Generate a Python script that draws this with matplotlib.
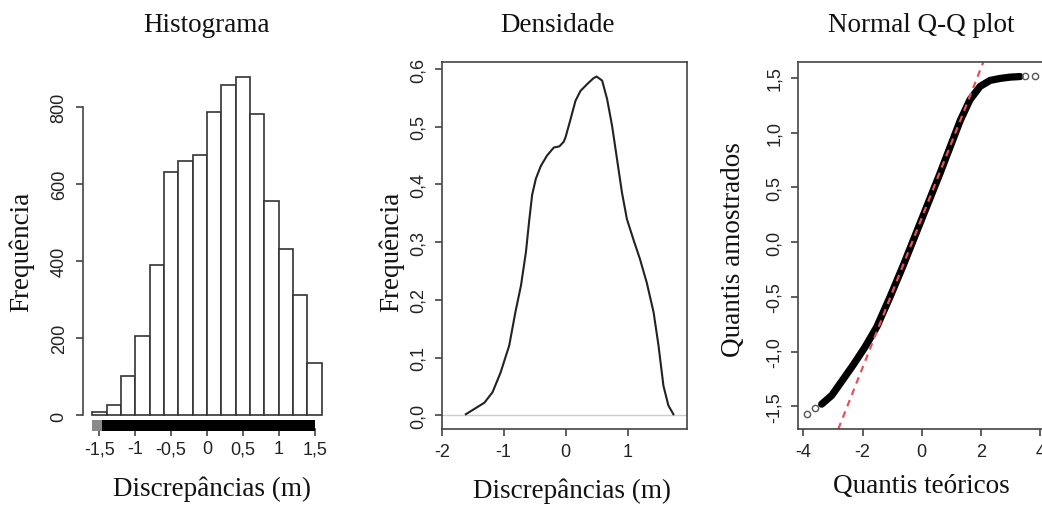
import numpy as np
import matplotlib
matplotlib.use("Agg")
import matplotlib.pyplot as plt
from matplotlib.ticker import FuncFormatter

# Histograma
bin_edges = [-1.6, -1.4, -1.2, -1.0, -0.8, -0.6, -0.4, -0.2, 0.0,
             0.2, 0.4, 0.6, 0.8, 1.0, 1.2, 1.4, 1.6]
hist_counts = [9, 26, 102, 207, 390, 630, 658, 674, 786,
               857, 878, 781, 556, 432, 311, 135]
rug_spans = [(-1.6, -1.47), (-1.47, 1.51)]
rug_colors = ["#8a8a8a", "black"]

# Densidade
dens_x = [-1.61, -1.31, -1.18, -1.05, -0.91, -0.81, -0.72, -0.64, -0.59, -0.54,
          -0.48, -0.40, -0.30, -0.19, -0.10, -0.03, 0.0, 0.08, 0.16, 0.24,
          0.35, 0.45, 0.50, 0.59, 0.67, 0.75, 0.83, 0.91, 0.99, 1.10,
          1.20, 1.31, 1.42, 1.50, 1.58, 1.66, 1.74]
dens_y = [0.002, 0.022, 0.040, 0.074, 0.121, 0.179, 0.225, 0.283, 0.335, 0.382,
          0.410, 0.432, 0.450, 0.464, 0.466, 0.474, 0.482, 0.513, 0.545, 0.562,
          0.574, 0.584, 0.587, 0.580, 0.548, 0.502, 0.444, 0.386, 0.340, 0.303,
          0.271, 0.230, 0.179, 0.121, 0.051, 0.017, 0.002]

# Normal Q-Q
qq_theo = [-3.38, -3.04, -2.70, -2.31, -1.92, -1.52, -1.07, -0.62, -0.34, -0.06,
           0.28, 0.62, 0.96, 1.30, 1.63, 1.97, 2.31, 2.65, 2.99, 3.32]
qq_samp = [-1.48, -1.40, -1.27, -1.12, -0.96, -0.775, -0.50, -0.21, -0.02, 0.17,
           0.40, 0.63, 0.87, 1.11, 1.301, 1.422, 1.477, 1.495, 1.507, 1.512]
tail_theo = [-3.89, -3.60, 3.49, 3.83]
tail_samp = [-1.571, -1.519, 1.515, 1.515]
qqline_intercept = 0.221
qqline_slope = 0.684

serif = "Liberation Serif"
sans = "Liberation Sans"
axcol = "#444444"
W, H = 1042, 506

fig = plt.figure(figsize=(W / 100, H / 100), dpi=100)


def px_axes(x0, y0, x1, y1):
    return fig.add_axes([x0 / W, 1 - y1 / H, (x1 - x0) / W, (y1 - y0) / H])


def comma(v, pos):
    s = ("%g" % v) if abs(v - round(v)) > 1e-9 or abs(v) >= 10 else "%d" % round(v)
    return s.replace(".", ",")


def comma1(v, pos):
    return ("%.1f" % v).replace(".", ",").replace("-0,0", "0,0")


def style(ax):
    for sp in ax.spines.values():
        sp.set_color(axcol)
        sp.set_linewidth(1.2)
    ax.tick_params(direction="out", length=5, width=1.2, color=axcol,
                   labelsize=13, labelcolor="#222222")
    for lab in ax.get_xticklabels() + ax.get_yticklabels():
        lab.set_family(sans)
    ax.tick_params(axis="y", labelrotation=90)
    for lab in ax.get_yticklabels():
        lab.set_va("center")


def ftext(x, y, s, rot=0):
    fig.text(x / W, 1 - y / H, s, family=serif, fontsize=19.5, ha="center",
             va="center", rotation=rot, color="#111111")


# ---- painel 1: histograma
ax1 = px_axes(83, 64, 331, 430)
ax1.bar(bin_edges[:-1], hist_counts, width=np.diff(bin_edges), align="edge",
        facecolor="white", edgecolor="#333333", linewidth=1.2)
for (a, b), c in zip(rug_spans, rug_colors):
    ax1.broken_barh([(a, b - a)], (-0.005, 0.03), facecolors=c,
                    transform=ax1.get_xaxis_transform(), clip_on=False, zorder=5)
ax1.set_xlim(-1.728, 1.728)
ax1.set_ylim(-35, 913)
ax1.spines["top"].set_visible(False)
ax1.spines["right"].set_visible(False)
ax1.spines["left"].set_bounds(0, 800)
ax1.spines["bottom"].set_bounds(-1.5, 1.5)
ax1.set_xticks([-1.5, -1, -0.5, 0, 0.5, 1, 1.5])
ax1.set_yticks([0, 200, 400, 600, 800])
ax1.xaxis.set_major_formatter(FuncFormatter(comma))
ax1.yaxis.set_major_formatter(FuncFormatter(comma))
style(ax1)
ax1.tick_params(axis="x", pad=3)
ax1.tick_params(axis="y", pad=6)

# ---- painel 2: densidade
ax2 = px_axes(441.7, 62.5, 687, 430)
ax2.axhline(0, color="#cccccc", linewidth=1)
ax2.plot(dens_x, dens_y, color="#222222", linewidth=1.5,
         solid_joinstyle="round")
ax2.set_xlim(-1.98, 1.96)
ax2.set_ylim(-0.0236, 0.613)
ax2.set_xticks([-2, -1, 0, 1])
ax2.set_yticks([0, 0.1, 0.2, 0.3, 0.4, 0.5, 0.6])
ax2.xaxis.set_major_formatter(FuncFormatter(comma))
ax2.yaxis.set_major_formatter(FuncFormatter(comma1))
style(ax2)
ax2.tick_params(axis="x", pad=5)
ax2.tick_params(axis="y", pad=6)

# ---- painel 3: Q-Q
ax3 = px_axes(798.3, 63, 1045.2, 430)
ax3.plot(qq_theo, qq_samp, color="black", linewidth=5.2,
         solid_capstyle="round", solid_joinstyle="round")
ax3.plot(tail_theo, tail_samp, linestyle="none", marker="o", markersize=4.5,
         markerfacecolor="none", markeredgecolor="#555555", markeredgewidth=1)
ax3.axline((0, qqline_intercept), slope=qqline_slope, color="#e8505a",
           linestyle=(0, (3, 2.5)), linewidth=1.6)
ax3.set_xlim(-4.17, 4.17)
ax3.set_ylim(-1.707, 1.645)
ax3.set_xticks([-4, -2, 0, 2, 4])
ax3.set_yticks([-1.5, -1.0, -0.5, 0, 0.5, 1.0, 1.5])
ax3.xaxis.set_major_formatter(FuncFormatter(comma))
ax3.yaxis.set_major_formatter(FuncFormatter(comma1))
style(ax3)
ax3.tick_params(axis="x", pad=5)
ax3.tick_params(axis="y", pad=6)

# titulos e rotulos
ftext(207, 26, "Histograma")
ftext(558, 26, "Densidade")
ftext(921, 26, "Normal Q-Q plot")
ftext(212, 489, "Discrepâncias (m)")
ftext(572, 491, "Discrepâncias (m)")
ftext(921, 487, "Quantis teóricos")
ftext(22, 252, "Frequência", rot=90)
ftext(392, 252, "Frequência", rot=90)
ftext(733, 250, "Quantis amostrados", rot=90)

fig.savefig("out.png", dpi=100)
